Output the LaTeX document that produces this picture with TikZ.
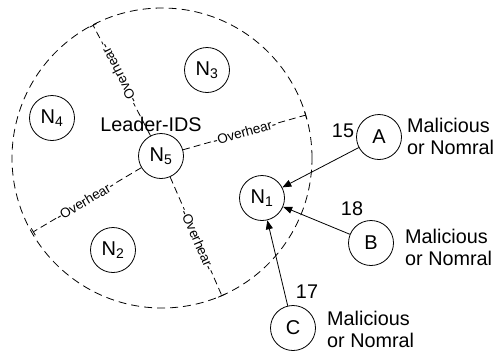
\documentclass[tikz,border=0pt]{standalone}
\usepackage{fontspec}
\setmainfont{Liberation Sans}
\usetikzlibrary{arrows.meta}
\begin{document}
\begin{tikzpicture}[x=1pt,y=-1pt,
  nd/.style={circle,draw,line width=0.8pt,minimum size=45pt,inner sep=0pt,font=\fontsize{20}{22}\selectfont},
  big/.style={draw,dash pattern=on 8pt off 5pt,line width=0.8pt},
  ov/.style={draw,dash pattern=on 7pt off 4pt,line width=0.8pt,-{Bar[width=8pt,line width=0.8pt]}},
  ovl/.style={fill=white,inner sep=0.3pt,font=\fontsize{13.5}{13.5}\selectfont,sloped},
  arr/.style={draw,line width=0.8pt,-{Triangle[length=9pt,width=7pt]}},
  txt/.style={font=\fontsize{19.8}{22}\selectfont,align=left,inner sep=0pt}
]
\useasboundingbox (0,0) rectangle (497,357);
\node[big,circle,minimum size=300pt,inner sep=0pt] (zone) at (162,158) {};
\node[nd,fill=white] (N5) at (161,156) {N\textsubscript{5}};
\node[nd] (N4) at (52,118) {N\textsubscript{4}};
\node[nd] (N3) at (207,70) {N\textsubscript{3}};
\node[nd] (N2) at (113,250) {N\textsubscript{2}};
\node[nd] (N1) at (262,198) {N\textsubscript{1}};
\node[nd] (A) at (379,137) {A};
\node[nd] (B) at (371,243) {B};
\node[nd] (C) at (293,328) {C};
\coordinate (e1) at (93,25);
\coordinate (e2) at (306,115);
\coordinate (e3) at (33,232);
\coordinate (e4) at (222,296);
\draw[ov] (N5) -- node[ovl,allow upside down,pos=0.56] {-Overhear-} (e1);
\draw[ov] (N5) -- node[ovl,pos=0.5] {-Overhear-} (e2);
\draw[ov] (N5) -- node[ovl,pos=0.52] {-Overhear-} (e3);
\draw[ov] (N5) -- node[ovl,pos=0.53] {-Overhear-} (e4);
\node[txt] (lead) at (151,124) {Leader-IDS};
\draw[arr] (A) -- (N1);
\draw[arr] (B) -- (N1);
\draw[arr] (C) -- (N1);
\node[txt] (l15) at (343,131) {15};
\node[txt] (l18) at (352,209) {18};
\node[txt] (l17) at (307,292) {17};
\node[txt,anchor=west] (ma) at (407,136) {Malicious\\or Nomral};
\node[txt,anchor=west] (mb) at (405,247) {Malicious\\or Nomral};
\node[txt,anchor=west] (mc) at (327,329) {Malicious\\or Nomral};
\end{tikzpicture}
\end{document}
